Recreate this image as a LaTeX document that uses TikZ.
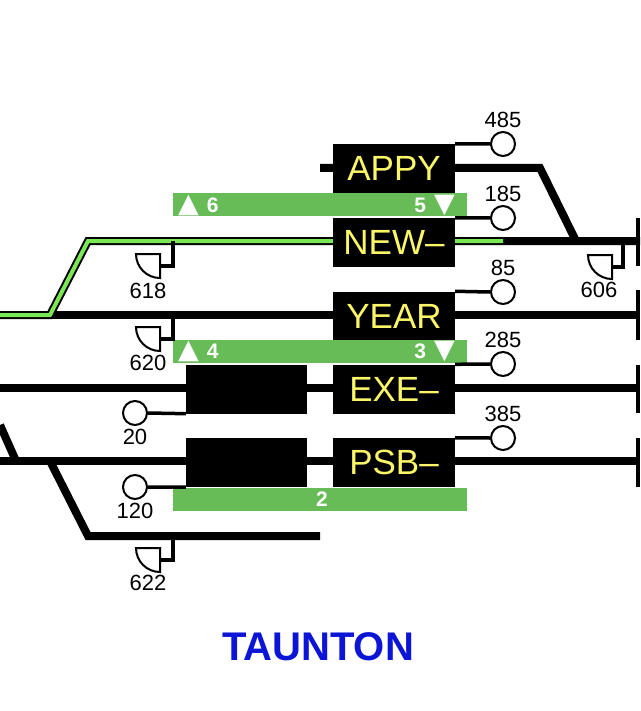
\documentclass[tikz,border=0pt]{standalone}
\usepackage{fontspec}
\setmainfont{Liberation Sans}
\newfontfamily\symfont{DejaVu Sans}
\usetikzlibrary{positioning}
\definecolor{barGreen}{RGB}{104,188,88}
\definecolor{routeGreen}{RGB}{122,232,84}
\definecolor{boxYellow}{RGB}{250,246,104}
\definecolor{townBlue}{RGB}{12,20,214}
\newcommand{\uptri}{{\symfont\fontsize{27}{27}\selectfont▲}}
\newcommand{\downtri}{{\symfont\fontsize{27}{27}\selectfont▼}}

\begin{document}
\begin{tikzpicture}[x=1pt,y=-1pt,
    track/.style={line width=8pt},
    route/.style={line width=4pt,routeGreen},
    post/.style={line width=3.5pt},
    box/.style={fill=black,minimum width=122pt,minimum height=49pt,inner sep=0,text=boxYellow,font=\fontsize{35}{35}\selectfont},
    blank box/.style={fill=black,minimum width=121pt,minimum height=49pt,inner sep=0},
    bar/.style={fill=barGreen,minimum width=294pt,minimum height=23pt,inner sep=0},
    bar text/.style={text=white,inner sep=0,font=\bfseries\fontsize{21}{21}\selectfont},
    sig/.style={circle,draw,fill=white,line width=2pt,minimum size=24pt,inner sep=0},
    num/.style={inner sep=0,font=\fontsize{22}{22}\selectfont},
    shunt/.style={draw,fill=white,line width=2pt}]
    \useasboundingbox (0,0) rectangle (640,711);

    % running lines
    \draw[track] (0,315) -- (640,315);
    \draw[track] (0,315) -- (50,315) -- (88,241) -- (640,241);
    \draw[route] (0,315) -- (50,315) -- (88,241) -- (503,241);
    \draw[track] (320,168) -- (540,168) -- (576,241);
    \draw[track] (0,388) -- (640,388);
    \draw[track] (0,461) -- (640,461);
    \draw[track] (0,425) -- (16,461);
    \draw[track] (50,461) -- (88,536) -- (320,536);

    % limits at the right
    \foreach \top/\bot in {218/266, 290/340, 365/413, 438/487}
        \draw[post] (638,\top) -- (638,\bot);

    % berths
    \node[box] (appy) at (394,168.5) {APPY};
    \node[box] (new) at (394,242.5) {NEW–};
    \node[box] (year) at (394,316) {YEAR};
    \node[box] (exe) at (394,389) {EXE–};
    \node[box] (psb) at (394,462.5) {PSB–};
    \node[blank box] (exe blank) at (246.5,389) {};
    \node[blank box] (psb blank) at (246.5,462.5) {};

    % platforms
    \node[bar] (p6) at (320,205) {};
    \node[bar] (p4) at (320,351.5) {};
    \node[bar] (p2) at (320,499) {};
    \node[bar text,anchor=west] (p6 up) at (178,205) {\uptri\hspace{8pt}6};
    \node[bar text,anchor=east] (p5 down) at (455,205) {5\hspace{8pt}\downtri};
    \node[bar text,anchor=west] (p4 up) at (178,351.5) {\uptri\hspace{8pt}4};
    \node[bar text,anchor=east] (p3 down) at (455,351.5) {3\hspace{8pt}\downtri};
    \node[bar text] (p2 num) at (322,499) {2};

    % main signals
    \node[sig] (s485) at (503,144) {};
    \node[sig] (s185) at (503,218) {};
    \node[sig] (s85) at (503,292) {};
    \node[sig] (s285) at (503,364) {};
    \node[sig] (s385) at (503,438) {};
    \node[sig] (s20) at (135,413) {};
    \node[sig] (s120) at (135,487) {};
    \draw[post] (appy.north east) -- (s485.west);
    \draw[post] (new.north east) -- (s185.west);
    \draw[post] (year.north east) -- (s85.west);
    \draw[post] (exe.north east) -- (s285.west);
    \draw[post] (psb.north east) -- (s385.west);
    \draw[post] (exe blank.south west) -- (s20.east);
    \draw[post] (psb blank.south west) -- (s120.east);
    \node[num] (l485) [above=3pt of s485] {485};
    \node[num] (l185) [above=3pt of s185] {185};
    \node[num] (l85) [above=3pt of s85] {85};
    \node[num] (l285) [above=3pt of s285] {285};
    \node[num] (l385) [above=3pt of s385] {385};
    \node[num] (l20) [below=3pt of s20] {20};
    \node[num] (l120) [below=3pt of s120] {120};

    % shunt signals
    \draw[post] (173,241) -- (173,266) -- (160,266);
    \draw[shunt] (160,254) -- (136,254) arc (180:90:24) -- cycle;
    \draw[post] (173,315) -- (173,339) -- (160,339);
    \draw[shunt] (160,327) -- (136,327) arc (180:90:24) -- cycle;
    \draw[post] (173,536) -- (173,560) -- (160,560);
    \draw[shunt] (160,548) -- (136,548) arc (180:90:24) -- cycle;
    \draw[post] (623,241) -- (623,267) -- (612,267);
    \draw[shunt] (612,255) -- (588,255) arc (180:90:24) -- cycle;
    \node[num] (l618) at (148,291) {618};
    \node[num] (l620) at (148,363) {620};
    \node[num] (l622) at (148,583) {622};
    \node[num] (l606) at (599,290) {606};

    \node[text=townBlue,inner sep=0,font=\bfseries\fontsize{40}{40}\selectfont] (town) at (318,647) {TAUNTON};
\end{tikzpicture}
\end{document}
